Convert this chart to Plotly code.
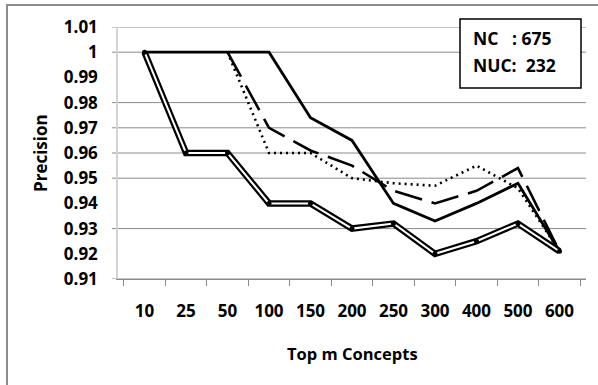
import plotly.graph_objects as go

categories = ["10", "25", "50", "100", "150", "200", "250", "300", "400", "500", "600"]

double_series = [1.00, 0.96, 0.96, 0.94, 0.94, 0.93, 0.932, 0.92, 0.925, 0.932, 0.921]
solid_series = [1.00, 1.00, 1.00, 1.00, 0.974, 0.965, 0.94, 0.933, 0.94, 0.948, 0.921]
dash_series = [None, None, 1.00, 0.97, 0.961, 0.955, 0.945, 0.94, 0.945, 0.954, 0.921]
dot_series = [None, None, 1.00, 0.96, 0.96, 0.95, 0.948, 0.947, 0.955, 0.946, 0.921]

ytick_vals = [0.91, 0.92, 0.93, 0.94, 0.95, 0.96, 0.97, 0.98, 0.99, 1.00, 1.01]
ytick_text = ["0.91", "0.92", "0.93", "0.94", "0.95", "0.96", "0.97", "0.98", "0.99", "1", "1.01"]
grid_vals = [0.91, 0.93, 0.95, 0.96, 0.97, 0.98, 1.00, 1.01]

box_lines = ["NC   : 675", "NUC:  232"]

FONT = "Open Sans"
GRID = "#8a8a8a"

fig = go.Figure()

fig.add_trace(go.Scatter(x=categories, y=dot_series, mode="lines",
                         line=dict(color="black", width=2.6, dash="2px,4px"),
                         showlegend=False))
fig.add_trace(go.Scatter(x=categories, y=dash_series, mode="lines",
                         line=dict(color="black", width=2.6, dash="28px,10px"),
                         showlegend=False))
fig.add_trace(go.Scatter(x=categories, y=solid_series, mode="lines",
                         line=dict(color="black", width=2.8),
                         showlegend=False))
# double line: thick black outline, thin white core, black vertex markers
fig.add_trace(go.Scatter(x=categories, y=double_series, mode="lines",
                         line=dict(color="black", width=6.5),
                         showlegend=False))
fig.add_trace(go.Scatter(x=categories, y=double_series, mode="lines",
                         line=dict(color="white", width=2),
                         showlegend=False))
fig.add_trace(go.Scatter(x=categories, y=double_series, mode="markers",
                         marker=dict(color="black", size=5),
                         showlegend=False))

shapes = []
for g in grid_vals:
    shapes.append(dict(type="line", xref="paper", yref="y", x0=-6/468, x1=1, y0=g, y1=g,
                       line=dict(color=GRID, width=1), layer="below"))
# outer chart border
shapes.append(dict(type="rect", xref="paper", yref="paper",
                   x0=(7-118)/468, x1=1.2, y0=-0.6, y1=(279-5)/252,
                   line=dict(color="#8c8c8c", width=2)))
# info box
shapes.append(dict(type="rect", xref="paper", yref="paper",
                   x0=(460-118)/468, x1=(581-118)/468, y0=(279-88)/252, y1=(279-19)/252,
                   line=dict(color="black", width=1.5), fillcolor="white", layer="above"))

annotations = [
    dict(text="Precision", xref="paper", yref="paper", x=(40-118)/468, y=0.5,
         textangle=-90, showarrow=False, font=dict(family=FONT, size=17, color="black"),
         xanchor="center", yanchor="middle"),
    dict(text="Top m Concepts", xref="paper", yref="paper", x=0.5, y=(279-353)/252,
         showarrow=False, font=dict(family=FONT, size=16.5, color="black"),
         xanchor="center", yanchor="middle"),
]
for i, t in enumerate(box_lines):
    annotations.append(dict(text=t, xref="paper", yref="paper", x=(471-118)/468,
                            y=(279-(38+27*i))/252, showarrow=False, xanchor="left",
                            yanchor="middle", font=dict(family=FONT, size=17.5, color="black")))

fig.update_layout(
    width=598, height=385,
    margin=dict(l=118, r=12, t=27, b=106),
    paper_bgcolor="white", plot_bgcolor="white",
    font=dict(family=FONT, size=17, color="black", weight="bold"),
    shapes=shapes, annotations=annotations,
    xaxis=dict(type="category", tickson="boundaries", ticks="outside", ticklen=6,
               tickcolor=GRID, showline=True, linecolor=GRID, linewidth=1,
               showgrid=False, ticklabelstandoff=17,
               tickfont=dict(family=FONT, size=17, color="black", weight="bold")),
    yaxis=dict(range=[0.91, 1.01], tickvals=ytick_vals, ticktext=ytick_text,
               showgrid=False, zeroline=False, ticks="", showline=True,
               linecolor="#d4d4d4", linewidth=1.5, ticklabelstandoff=15,
               tickfont=dict(family=FONT, size=17, color="black", weight="bold")),
)

fig.write_html("out.html")
